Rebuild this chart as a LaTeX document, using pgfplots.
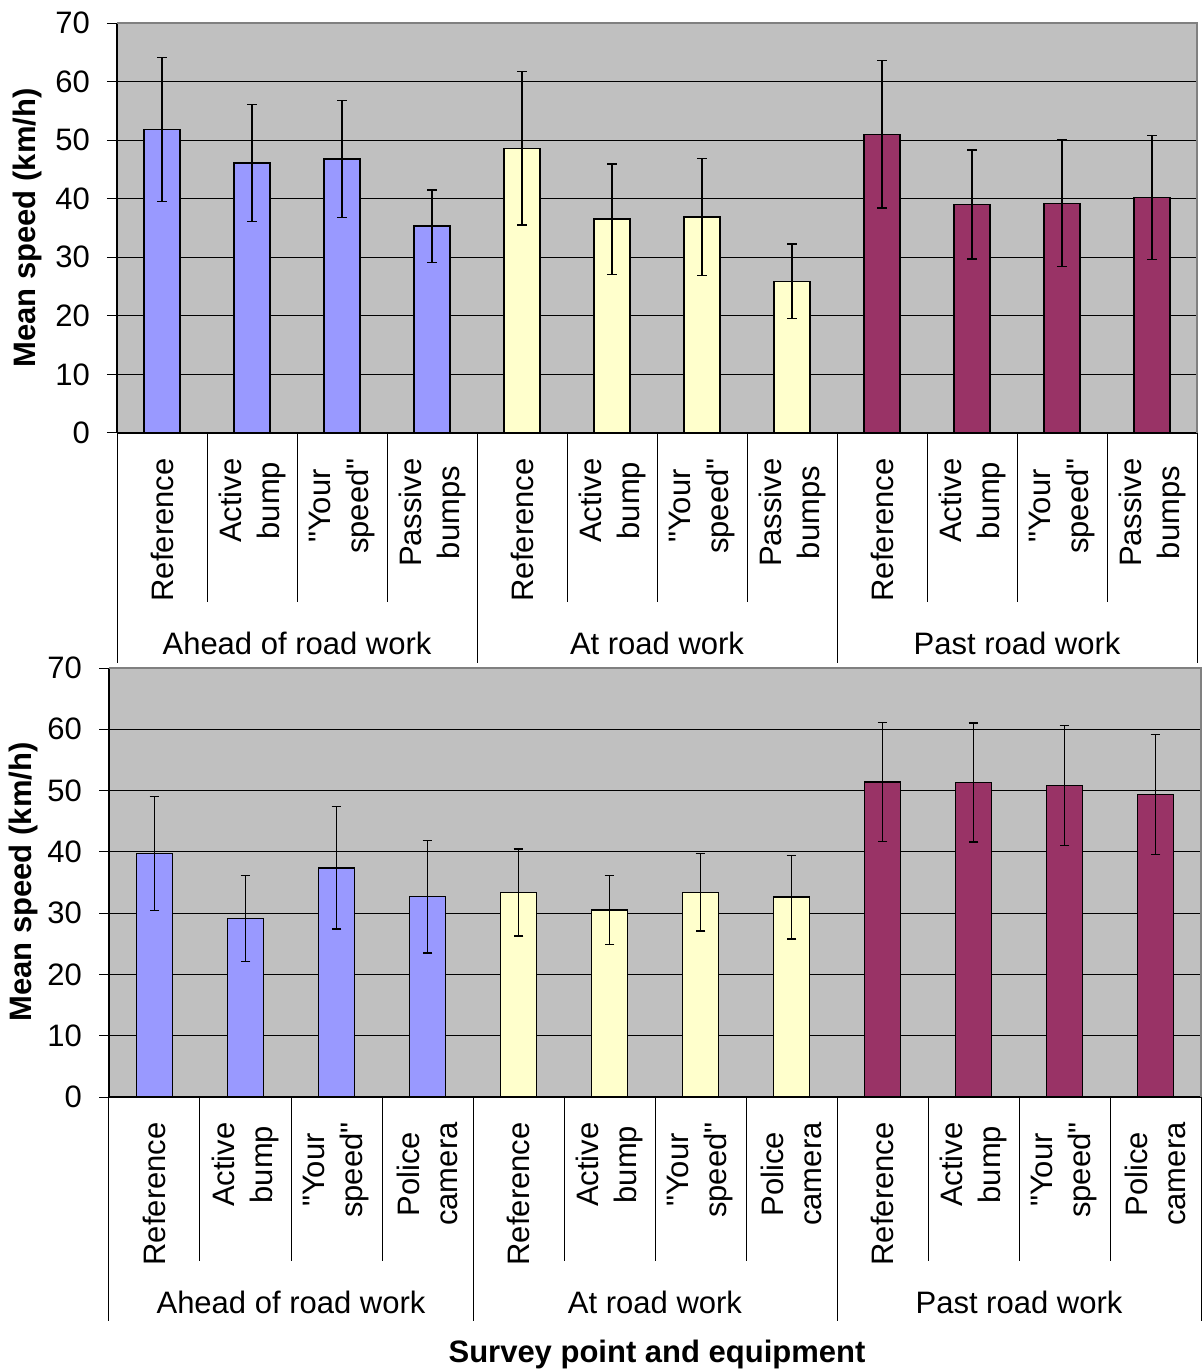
\documentclass[border=0pt]{standalone}
\usepackage{fontspec}
\setmainfont{Liberation Sans}
\newfontfamily\qf{Liberation Sans}
\newcommand{\q}{{\qf\symbol{34}}}
\usepackage{pgfplots}
\pgfplotsset{compat=1.18}
\definecolor{cblue}{HTML}{9999FF}
\definecolor{cyel}{HTML}{FFFFCC}
\definecolor{cmar}{HTML}{993366}
\definecolor{bg}{HTML}{C0C0C0}
\definecolor{bord}{HTML}{808080}
\newcommand{\lf}{\fontsize{15.5}{19}\selectfont}
\tikzset{lab/.style={rotate=90, anchor=east, align=center, inner xsep=0pt, font=\lf}}
\pgfplotsset{
 panel/.style={
  scale only axis, anchor=north west,
  xmin=-0.5, xmax=11.5, ymin=0, ymax=70,
  xtick=\empty, ytick={0,10,...,70},
  ymajorgrids, grid style={black, line width=0.5pt},
  axis background/.style={fill=bg},
  axis x line*=bottom, axis y line*=left,
  axis line style={black, line width=0.6pt},
  tick align=outside, major tick length=5pt, ytick style={black, line width=0.5pt},
  tick label style={font=\lf},
  yticklabel style={xshift=-5pt},
  /pgf/number format/assume math mode=true,
  ybar, bar width=0.4,
  clip=false,
 },
 eb/.style={bar shift=0pt, draw=black, line width=0.75pt,
  error bars/.cd, y dir=both, y explicit,
  error bar style={black, line width=0.7pt},
  error mark options={black, line width=0.7pt, mark size=2.4pt, rotate=90}},
}
\begin{document}
\begin{tikzpicture}[x=1pt,y=1pt]
\useasboundingbox (0,0) rectangle (601,-685.5);
% ---------- top panel
\begin{axis}[panel, at={(58.5pt,-11.5pt)}, width=540pt, height=205pt]
\addplot[fill=cblue, eb] coordinates {(0,51.8) +- (0,12.3) (1,46.1) +- (0,10.0) (2,46.8) +- (0,10.0) (3,35.3) +- (0,6.2)};
\addplot[fill=cyel, eb] coordinates {(4,48.6) +- (0,13.1) (5,36.5) +- (0,9.4) (6,36.9) +- (0,10.0) (7,25.9) +- (0,6.4)};
\addplot[fill=cmar, eb] coordinates {(8,51.0) +- (0,12.6) (9,39.0) +- (0,9.3) (10,39.2) +- (0,10.8) (11,40.2) +- (0,10.6)};
\draw[bord, line width=0.6pt] (rel axis cs:0,1) -- (rel axis cs:1,1) -- (rel axis cs:1,0);
\pgfplotsinvokeforeach{0.5,1.5,2.5,4.5,5.5,6.5,8.5,9.5,10.5}{\draw[black, line width=0.5pt] (axis cs:#1,0) -- ++(0pt,-84.5pt);}
\pgfplotsinvokeforeach{-0.5,3.5,7.5,11.5}{\draw[black, line width=0.5pt] (axis cs:#1,0) -- ++(0pt,-115pt);}
\pgfplotsinvokeforeach{0,4,8}{\path (axis cs:#1,0) ++(0pt,-12.5pt) node[lab] {Reference};}
\pgfplotsinvokeforeach{1,5,9}{\path (axis cs:#1,0) ++(0pt,-12.5pt) node[lab] {Active\\bump};}
\pgfplotsinvokeforeach{2,6,10}{\path (axis cs:#1,0) ++(0pt,-12.5pt) node[lab] {\q Your\\speed\q};}
\pgfplotsinvokeforeach{3,7,11}{\path (axis cs:#1,0) ++(0pt,-12.5pt) node[lab] {Passive\\bumps};}
\path (axis cs:1.5,0) ++(0pt,-105pt) node[font=\lf] {Ahead of road work};
\path (axis cs:5.5,0) ++(0pt,-105pt) node[font=\lf] {At road work};
\path (axis cs:9.5,0) ++(0pt,-105pt) node[font=\lf] {Past road work};
\end{axis}
% ---------- bottom panel
\begin{axis}[panel, at={(54.5pt,-334pt)}, width=546pt, height=214.5pt]
\addplot[fill=cblue, eb] coordinates {(0,39.7) +- (0,9.3) (1,29.1) +- (0,7.0) (2,37.4) +- (0,10.0) (3,32.7) +- (0,9.2)};
\addplot[fill=cyel, eb] coordinates {(4,33.4) +- (0,7.1) (5,30.5) +- (0,5.6) (6,33.4) +- (0,6.3) (7,32.6) +- (0,6.8)};
\addplot[fill=cmar, eb] coordinates {(8,51.4) +- (0,9.7) (9,51.3) +- (0,9.7) (10,50.8) +- (0,9.8) (11,49.4) +- (0,9.8)};
\draw[bord, line width=0.6pt] (rel axis cs:0,1) -- (rel axis cs:1,1) -- (rel axis cs:1,0);
\pgfplotsinvokeforeach{0.5,1.5,2.5,4.5,5.5,6.5,8.5,9.5,10.5}{\draw[black, line width=0.5pt] (axis cs:#1,0) -- ++(0pt,-82pt);}
\pgfplotsinvokeforeach{-0.5,3.5,7.5,11.5}{\draw[black, line width=0.5pt] (axis cs:#1,0) -- ++(0pt,-112pt);}
\pgfplotsinvokeforeach{0,4,8}{\path (axis cs:#1,0) ++(0pt,-12.5pt) node[lab] {Reference};}
\pgfplotsinvokeforeach{1,5,9}{\path (axis cs:#1,0) ++(0pt,-12.5pt) node[lab] {Active\\bump};}
\pgfplotsinvokeforeach{2,6,10}{\path (axis cs:#1,0) ++(0pt,-12.5pt) node[lab] {\q Your\\speed\q};}
\pgfplotsinvokeforeach{3,7,11}{\path (axis cs:#1,0) ++(0pt,-12.5pt) node[lab] {Police\\camera};}
\path (axis cs:1.5,0) ++(0pt,-102.5pt) node[font=\lf] {Ahead of road work};
\path (axis cs:5.5,0) ++(0pt,-102.5pt) node[font=\lf] {At road work};
\path (axis cs:9.5,0) ++(0pt,-102.5pt) node[font=\lf] {Past road work};
\end{axis}
\node[rotate=90, font=\lf\bfseries] at (13.75,-114) {Mean speed (km/h)};
\node[rotate=90, font=\lf\bfseries] at (11.5,-441) {Mean speed (km/h)};
\node[font=\lf\bfseries] at (328.5,-677) {Survey point and equipment};
\end{tikzpicture}
\end{document}
